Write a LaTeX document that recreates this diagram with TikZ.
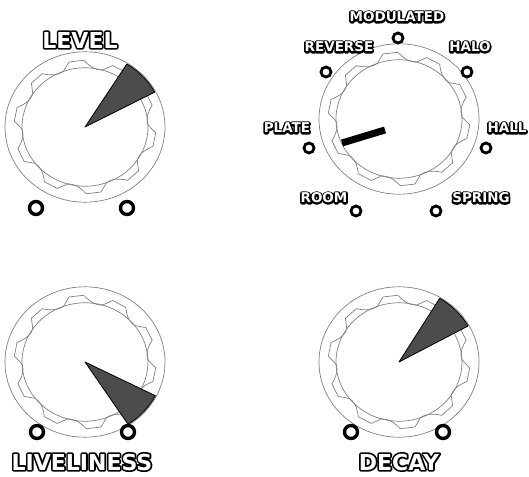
\documentclass[tikz,border=0pt]{standalone}
\usepackage{fontspec}
\setmainfont{DejaVu Sans}
\usetikzlibrary{positioning}
% white letters on a black rim: stroked black copy below, white copy on top
\newcommand\rimtext[2]{\rlap{\color{black}\special{pdf:literal direct 2 Tr #1 w 1 j 0 0 0 RG}#2\special{pdf:literal direct 0 Tr}}#2}

\begin{document}
\begin{tikzpicture}[
  x=1pt,y=1pt,
  rim/.style={draw=black!50,line width=.7pt},
  wedge/.style={draw=black,fill=black!70,line width=.8pt,line join=round},
  dot/.style={circle,draw=black,fill=white,line width=2.8pt,minimum size=10pt,inner sep=0pt},
  pin/.style={dot,line width=3.4pt,minimum size=13pt},
  tag/.style={text=white,font=\bfseries\fontsize{13.5}{13.5}\selectfont},
  title/.style={text=white,font=\bfseries\fontsize{22}{22}\selectfont}
]
  \useasboundingbox (0,0) rectangle (529,476);

  % knob bodies
  \foreach \n/\cx/\cy in {level/85/349,mode/399/357,live/85/114,decay/399/114}{
    \coordinate (\n) at (\cx,\cy);
    \begin{scope}[shift={(\n)},yscale=.94]
      \draw[rim] (0,0) circle (80);
      \draw[rim] (0,0) circle (63);
      \draw[rim] (19:71) \foreach \a in {19,55,...,343}{
        -- (\a+12:71) -- (\a+19:63) .. controls (\a+27:61) and (\a+33:67) .. (\a+36:71)} -- cycle;
    \end{scope}
  }

  % pointers
  \draw[wedge,shift={(level)},yscale=.94] (0,0) -- (28:79) arc[start angle=28,end angle=58,radius=79] -- cycle;
  \draw[wedge,shift={(live)},yscale=.94] (0,0) -- (-57:79) arc[start angle=-57,end angle=-27,radius=79] -- cycle;
  \draw[wedge,shift={(decay)},yscale=.94] (0,0) -- (29:79) arc[start angle=29,end angle=59,radius=79] -- cycle;
  \draw[line width=7pt,shift={(mode)}] (-14,-11) coordinate (barIn) -- (-57,-24) coordinate (barOut);

  % end stops
  \node[pin] (levelL) at (36,268) {};
  \node[pin] (levelR) at (127,268) {};
  \node[pin] (liveL) at (37,44) {};
  \node[pin] (liveR) at (128,44) {};
  \node[pin] (decayL) at (351,44) {};
  \node[pin] (decayR) at (443,44) {};

  % selector positions
  \node[dot] (modulated) at (398,438) {};
  \node[dot] (reverse) at (326,404) {};
  \node[dot] (halo) at (467,404) {};
  \node[dot] (plate) at (309,328) {};
  \node[dot] (hall) at (486,328) {};
  \node[dot] (room) at (356,265) {};
  \node[dot] (spring) at (436,265) {};

  \node[tag] (modulatedT) at (397,459) {\rimtext{3.4}{MODULATED}};
  \node[tag] (reverseT) at (339,429) {\rimtext{3.4}{REVERSE}};
  \node[tag] (haloT) at (470,429) {\rimtext{3.4}{HALO}};
  \node[tag] (plateT) at (287,348) {\rimtext{3.4}{PLATE}};
  \node[tag] (hallT) at (507,348) {\rimtext{3.4}{HALL}};
  \node[tag] (roomT) at (324,278) {\rimtext{3.4}{ROOM}};
  \node[tag] (springT) at (481,278) {\rimtext{3.4}{SPRING}};

  % knob names
  \node[title] (levelT) at (80,436) {\rimtext{3.4}{LEVEL}};
  \node[title] (liveT) at (82,14) {\rimtext{3.4}{LIVELINESS}};
  \node[title] (decayT) at (399,14) {\rimtext{3.4}{DECAY}};
\end{tikzpicture}
\end{document}
